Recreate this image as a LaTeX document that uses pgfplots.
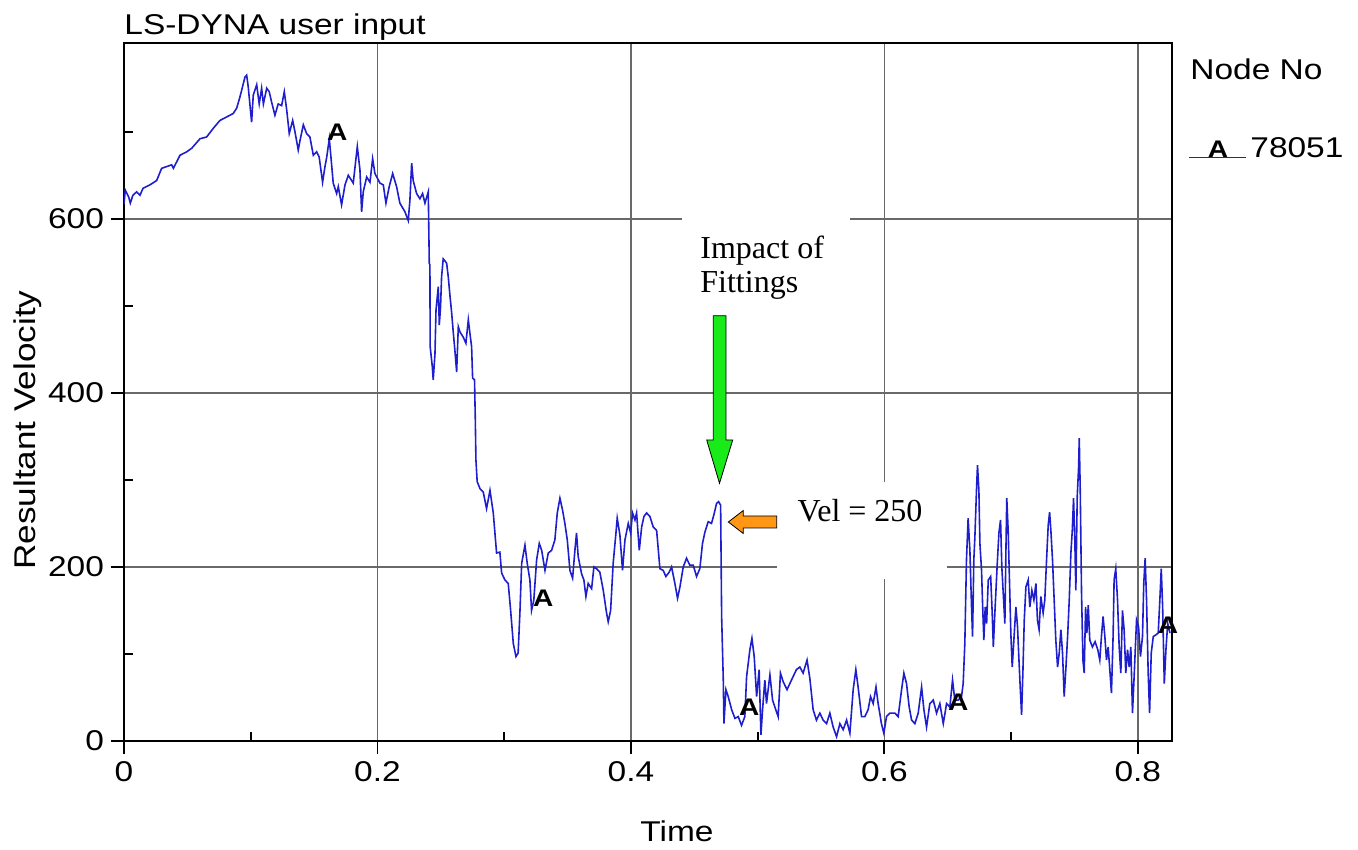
\documentclass[border=0pt]{standalone}
\usepackage{pgfplots}
\pgfplotsset{compat=1.18}
\usepackage{pgfplotstable}
\usepackage{fontspec}
\setmainfont[FakeStretch=1.17]{Liberation Sans}
\newfontfamily\timesfont{Liberation Serif}
\usetikzlibrary{plotmarks}

\definecolor{dyna}{RGB}{30,30,205}
\definecolor{gridgray}{RGB}{105,105,105}
\definecolor{arrowgreen}{RGB}{25,235,25}
\definecolor{arroworange}{RGB}{255,150,20}

% resultant velocity of node 78051
\pgfplotstableread{
t v
0 617
0.001 633
0.0037 625
0.005 618
0.007 627
0.010 631
0.0126 627
0.015 635
0.0205 639
0.0258 644
0.0297 658
0.0337 660
0.0376 662
0.039 658
0.0442 673
0.0495 677
0.0534 681
0.060 692
0.0652 694
0.0705 704
0.0757 713
0.081 717
0.0862 721
0.0889 727
0.0915 740
0.0955 763
0.0968 765
0.098 752
0.1007 711
0.102 742
0.1047 754
0.1067 732
0.1086 750
0.110 732
0.1126 750
0.1146 746
0.1165 734
0.1191 719
0.1217 732
0.1244 730
0.1265 746
0.1284 725
0.1304 698
0.1331 713
0.1349 700
0.1375 679
0.1389 690
0.1415 708
0.1441 698
0.1467 694
0.1494 673
0.152 677
0.154 671
0.1567 642
0.1586 660
0.160 671
0.162 692
0.1633 671
0.1651 641
0.1678 629
0.1691 637
0.1717 616
0.1744 639
0.177 650
0.1809 641
0.1841 683
0.1862 656
0.1875 608
0.1888 631
0.1915 648
0.1941 642
0.1962 669
0.198 652
0.202 641
0.2046 639
0.2067 618
0.2093 637
0.212 652
0.2151 637
0.2177 618
0.2217 608
0.2243 598
0.2256 621
0.227 664
0.2282 644
0.2309 629
0.2335 623
0.2356 629
0.2375 618
0.2401 631
0.2409 549
0.2414 547
0.2416 453
0.2433 430
0.244 415
0.2454 445
0.2462 495
0.248 522
0.2488 478
0.2498 499
0.2506 533
0.2519 554
0.2546 549
0.2559 533
0.2572 512
0.2585 493
0.2598 470
0.2611 449
0.2625 424
0.2638 476
0.2651 470
0.2677 464
0.2698 457
0.2717 484
0.273 468
0.2743 453
0.2751 417
0.2766 415
0.2772 371
0.2777 323
0.2787 298
0.2809 290
0.2835 286
0.2861 267
0.2888 288
0.2914 262
0.294 216
0.2966 217
0.298 193
0.3006 185
0.3032 181
0.3051 150
0.3072 112
0.3093 97
0.311 101
0.3124 147
0.3138 204
0.3164 225
0.3182 204
0.3203 185
0.3216 150
0.3234 162
0.3256 208
0.3277 227
0.3296 219
0.3322 196
0.3348 216
0.3374 219
0.34 231
0.3419 262
0.344 279
0.3461 265
0.3479 250
0.3498 231
0.3519 196
0.354 187
0.3558 219
0.3571 239
0.3584 212
0.3611 192
0.3629 185
0.3645 166
0.3663 181
0.369 175
0.3708 200
0.3729 198
0.3755 194
0.3782 173
0.3808 147
0.3821 137
0.384 150
0.386 204
0.3882 239
0.3892 256
0.3913 237
0.3934 196
0.3953 231
0.3979 250
0.3998 239
0.4013 262
0.4032 254
0.4045 262
0.4066 219
0.4085 246
0.4103 258
0.4124 262
0.415 258
0.4176 246
0.4203 242
0.4229 198
0.4255 196
0.4276 189
0.4302 194
0.4321 200
0.4347 181
0.4368 164
0.4387 177
0.4413 200
0.4439 210
0.4465 202
0.4492 202
0.4518 189
0.4544 198
0.4565 227
0.4584 240
0.461 252
0.4636 250
0.4655 260
0.4676 273
0.4692 275
0.4708 271
0.4716 143
0.4729 70
0.4734 20
0.475 59
0.4768 51
0.4795 36
0.4821 26
0.4847 28
0.4873 18
0.4899 28
0.4913 74
0.4939 105
0.4955 118
0.4973 97
0.4992 51
0.5012 82
0.5026 7
0.5039 36
0.5057 70
0.507 43
0.5097 76
0.5118 47
0.5136 39
0.5162 28
0.518 78
0.5202 68
0.5232 59
0.5267 70
0.5306 82
0.5333 85
0.5359 78
0.539 93
0.5412 72
0.5438 36
0.5464 24
0.5491 32
0.5517 24
0.5544 20
0.557 32
0.5596 16
0.5623 5
0.5649 20
0.5675 13
0.5702 24
0.5728 9
0.5754 59
0.5775 82
0.5793 62
0.582 28
0.5846 28
0.5872 36
0.5891 51
0.5912 43
0.5934 62
0.5951 43
0.5977 20
0.5996 9
0.6017 28
0.6043 32
0.6083 32
0.6109 28
0.6136 59
0.6154 78
0.6175 66
0.6196 39
0.6215 24
0.6241 20
0.6267 32
0.6294 62
0.6312 36
0.6333 16
0.6359 43
0.6386 47
0.6412 32
0.6438 43
0.6465 20
0.6491 43
0.6517 39
0.6538 70
0.6556 47
0.6583 47
0.6609 51
0.6622 66
0.6635 112
0.6648 208
0.6661 256
0.6675 219
0.6688 154
0.6696 120
0.6706 208
0.6714 233
0.6727 288
0.6735 317
0.6746 288
0.6754 227
0.6767 196
0.6775 158
0.6785 116
0.6796 154
0.6807 135
0.682 185
0.6839 189
0.6851 147
0.686 108
0.6872 147
0.6891 204
0.6904 239
0.6917 254
0.6927 200
0.6938 170
0.6951 135
0.6959 216
0.6966 279
0.6977 242
0.6988 181
0.6998 124
0.7009 85
0.7022 116
0.7038 154
0.7051 131
0.7061 97
0.7072 62
0.7083 30
0.7093 78
0.7104 139
0.7117 177
0.7135 185
0.7148 154
0.7164 173
0.718 162
0.7196 181
0.7208 139
0.7221 128
0.7235 166
0.7253 147
0.7266 162
0.728 208
0.7293 248
0.7304 263
0.7314 242
0.7327 208
0.734 162
0.7353 116
0.7367 85
0.738 101
0.7393 128
0.7406 101
0.7419 51
0.7433 85
0.7446 120
0.7459 162
0.7472 216
0.7483 242
0.7493 279
0.7503 231
0.7511 173
0.7522 281
0.7533 315
0.7538 348
0.7546 286
0.7556 170
0.7567 93
0.7577 78
0.7588 154
0.7598 124
0.7609 156
0.7621 116
0.7642 108
0.7663 114
0.7684 105
0.77 93
0.7713 120
0.7726 143
0.774 120
0.7753 93
0.7766 108
0.7779 82
0.7792 55
0.7805 120
0.7813 185
0.7826 198
0.784 162
0.7853 108
0.7866 78
0.7879 150
0.7892 128
0.7905 78
0.7919 105
0.7932 85
0.7945 108
0.7958 32
0.7971 74
0.799 139
0.8006 131
0.8021 97
0.8037 120
0.8047 181
0.8058 210
0.8069 162
0.8082 78
0.8093 32
0.8106 101
0.8122 120
0.8143 122
0.8161 124
0.8174 162
0.8185 198
0.8196 154
0.8209 66
0.8222 105
0.8236 135
0.8254 124
}\velo

\begin{document}
\begin{tikzpicture}
\begin{axis}[
    name=ax,
    scale only axis,
    width=524pt, height=349pt,
    xmin=0, xmax=0.827,
    ymin=0, ymax=802,
    xtick={0,0.2,0.4,0.6,0.8},
    ytick={0,200,400,600},
    minor xtick={0.1,0.3,0.5,0.7},
    minor ytick={100,300,500,700},
    tick pos=left,
    tick align=outside,
    major tick length=6.5pt,
    minor tick length=-4.5pt,
    tick style={black, line width=0.9pt},
    grid=major,
    major grid style={gridgray, line width=0.75pt},
    axis line style={black, line width=1pt},
    ticklabel style={font=\fontsize{14.3}{14.3}\selectfont},
    /pgf/number format/assume math mode=true,
    scaled ticks=false,
]
\addplot[dyna, line width=0.8pt] table[x=t, y=v] {\velo};
\addplot[only marks, black, mark=text, text mark={A}, text mark as node=true,
    text mark style={font=\bfseries\fontsize{12}{12}\selectfont}]
    coordinates {(0.1683,700) (0.3308,164) (0.4934,39) (0.6583,45) (0.8239,133)};
\end{axis}

% annotations, in reference pixel units (origin top left)
\begin{scope}[x=0.5pt, y=-0.5pt, shift={(ax.south west)}, shift={(-124,-741)}]
\path (0,0) rectangle (1358,850);
\node[anchor=base west, inner sep=0, font=\fontsize{14.3}{14.3}\selectfont] at (124,35) {LS-DYNA user input};
\node[anchor=base west, inner sep=0, font=\fontsize{14.3}{14.3}\selectfont] at (640,841.7) {Time};
\node[anchor=base west, inner sep=0, rotate=90, font=\fontsize{15}{15}\selectfont] at (36,570) {Resultant Velocity};
% legend
\node[anchor=base west, inner sep=0, font=\fontsize{14.3}{14.3}\selectfont] at (1190,80) {Node No};
\draw[dyna, line width=0.8pt] (1189,157.7) -- (1246,157.7);
\node[anchor=base, inner sep=0, font=\bfseries\fontsize{12}{12}\selectfont] at (1218,157.7) {A};
\node[anchor=base west, inner sep=0, font=\fontsize{14.3}{14.3}\selectfont] at (1250,157.7) {78051};
% impact annotation
\fill[white] (682,212) rectangle (850,300);
\node[anchor=base west, inner sep=0, font=\timesfont\fontsize{16}{16}\selectfont] at (700,258.3) {Impact of};
\node[anchor=base west, inner sep=0, font=\timesfont\fontsize{16}{16}\selectfont] at (700,293) {Fittings};
\filldraw[fill=arrowgreen, draw=black, line width=0.4pt]
    (713.3,315.7) -- (726,315.7) -- (726,440) -- (732.7,440) -- (719.5,483.3)
    -- (706.7,440) -- (713.3,440) -- cycle;
\fill[white] (777,482) rectangle (947,579);
\node[anchor=base west, inner sep=0, font=\timesfont\fontsize{16}{16}\selectfont] at (797.3,521.7) {Vel = 250};
\filldraw[fill=arroworange, draw=black, line width=0.4pt]
    (728.3,522) -- (743.3,510.5) -- (743.3,516) -- (776.7,516) -- (776.7,528)
    -- (743.3,528) -- (743.3,533.5) -- cycle;
\end{scope}
\end{tikzpicture}
\end{document}
